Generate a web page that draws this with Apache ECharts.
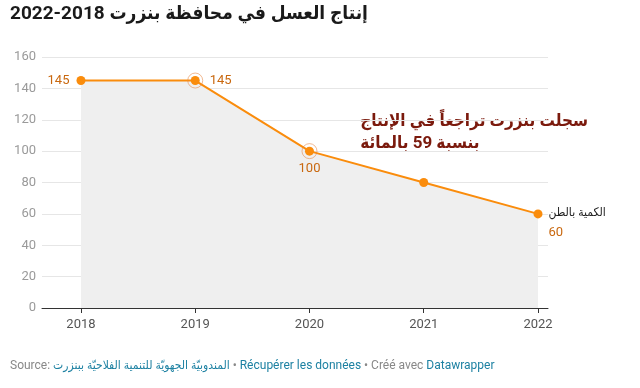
<!DOCTYPE html>
<html><head><meta charset="utf-8">
<script src="https://cdn.jsdelivr.net/npm/echarts@6/dist/echarts.min.js"></script>
<style>html,body{margin:0;padding:0;background:#fff}#c{width:640px;height:388px}</style>
</head><body><div id="c"></div>
<script>
const years = [2018, 2019, 2020, 2021, 2022];
const values = [145, 145, 100, 80, 60];
const yTicks = [0, 20, 40, 60, 80, 100, 120, 140, 160];
const highlighted = [2019, 2020];
const title = 'إنتاج العسل في محافظة بنزرت 2018-2022';
const annotation = ['سجلت بنزرت تراجعاً في الإنتاج', 'بنسبة 59 بالمائة'];
const unitLabel = 'الكمية بالطن';
const sourceName = 'المندوبيّة الجهويّة للتنمية الفلاحيّة ببنزرت';

const ORANGE = '#fa8c0c';
const LABEL = '#c9680f';
const FONT = 'Roboto, "DejaVu Sans Condensed", "DejaVu Sans", sans-serif';

const labelPos = ['left', 'right', 'bottom', null, 'right'];
const lineData = years.map((y, i) => {
  const d = { value: [y, values[i]] };
  if (labelPos[i] === null) d.label = { show: false };
  else if (i === years.length - 1) {
    d.label = { show: true, position: 'right', distance: 6, align: 'left', offset: [0, 9],
      formatter: '{a|' + unitLabel + '}\n{b|' + values[i] + '}',
      rich: { a: { color: '#222', fontSize: 12, fontFamily: FONT, lineHeight: 19 },
              b: { color: LABEL, fontSize: 13, fontFamily: FONT, lineHeight: 19 } } };
  } else d.label = { show: true, position: labelPos[i], distance: i === 1 ? 10 : 7 };
  return d;
});

const chart = echarts.init(document.getElementById('c'), null, { renderer: 'canvas' });
chart.setOption({
  animation: false,
  textStyle: { fontFamily: FONT },
  grid: { left: 42, right: 92, top: 57, bottom: 80 },
  xAxis: {
    type: 'value', min: 2017.659, max: 2022.0875,
    axisLine: { show: true, lineStyle: { color: '#333', width: 1 } },
    axisTick: { show: true, customValues: years, length: 5, lineStyle: { color: '#333' } },
    axisLabel: { customValues: years, color: '#555', fontSize: 13, margin: 10, fontFamily: FONT, formatter: v => String(v) },
    splitLine: { show: false }
  },
  yAxis: {
    type: 'value', min: 0, max: 160, interval: 20,
    axisLine: { show: false }, axisTick: { show: false },
    axisLabel: { color: '#9a9a9a', fontSize: 13, margin: 6, fontFamily: FONT },
    splitLine: { lineStyle: { color: '#e6e6e6', width: 1 } }
  },
  series: [
    {
      type: 'line', data: lineData,
      lineStyle: { color: ORANGE, width: 2 },
      itemStyle: { color: ORANGE },
      symbol: 'circle', symbolSize: 9, showAllSymbol: true,
      areaStyle: { color: '#efefef', opacity: 1 },
      label: { color: LABEL, fontSize: 13, fontFamily: FONT },
      z: 3
    },
    {
      type: 'scatter',
      data: highlighted.map(y => [y, values[years.indexOf(y)]]),
      symbol: 'circle', symbolSize: 15,
      itemStyle: { color: 'rgba(0,0,0,0)', borderColor: 'rgba(230,130,60,0.7)', borderWidth: 1 },
      z: 4, silent: true
    }
  ],
  graphic: [
    { type: 'text', left: 10, top: 5, style: { text: title, fontSize: 19, fontWeight: 'bold', fill: '#1a1a1a', fontFamily: FONT } },
    { type: 'text', right: 52, top: 111, style: { text: annotation.join('\n'), fontSize: 17, fontWeight: 'bold', fill: '#7b1a0d', fontFamily: FONT, align: 'right', lineHeight: 22 } },
    { type: 'text', left: 10, top: 360, style: {
        text: '{g|Source: }{l|' + sourceName + '}{g| • }{l|Récupérer les données}{g| • Créé avec }{l|Datawrapper}',
        rich: { g: { fill: '#888', fontSize: 12, fontFamily: FONT }, l: { fill: '#1d81a2', fontSize: 12, fontFamily: FONT } } } }
  ]
});
</script></body></html>
